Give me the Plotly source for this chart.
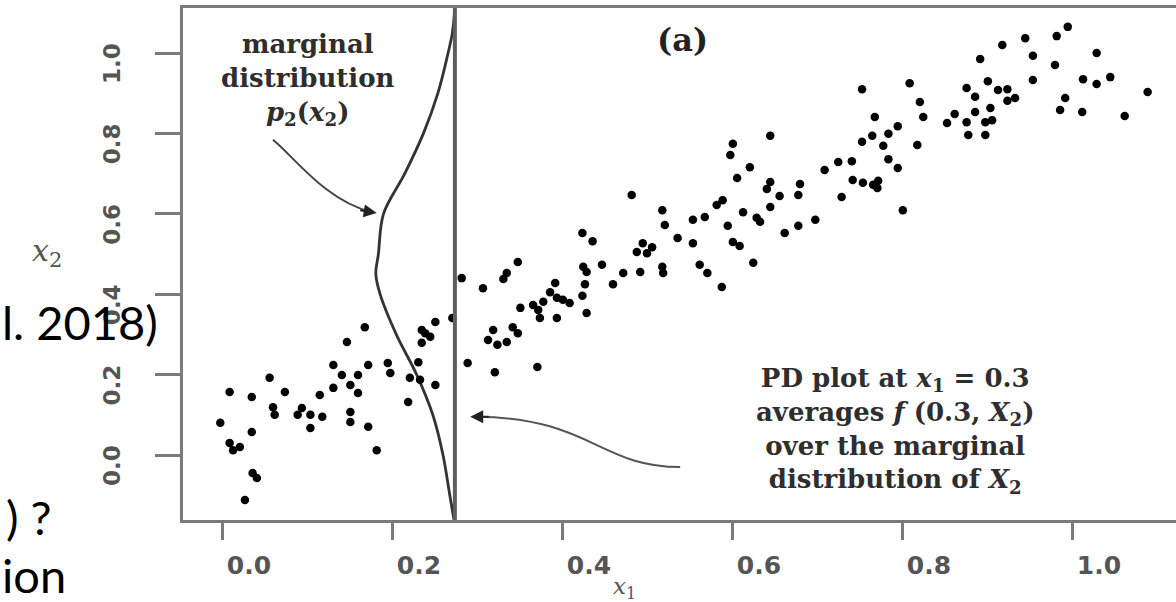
import plotly.graph_objects as go

# ---------------- data ----------------
x1_vals = [
    0.168, 0.147, 0.271, 0.251, 0.235, 0.239, 0.245, 0.235, 0.231, 0.195,
    0.198, 0.131, 0.141, 0.160, 0.172, 0.151, 0.131, 0.160, 0.056, 0.074,
    0.009, 0.035, 0.115, 0.060, 0.062, 0.094, 0.089, 0.104, 0.118, 0.151,
    0.151, 0.172, 0.104, 0.221, 0.233, 0.251, 0.219, -0.002, 0.035, 0.009,
    0.013, 0.021, 0.182, 0.036, 0.041, 0.027,
    0.482, 0.518, 0.521, 0.554, 0.568, 0.424, 0.436, 0.536, 0.554, 0.495,
    0.506, 0.488, 0.500, 0.348, 0.335, 0.331, 0.282, 0.307, 0.425, 0.429,
    0.447, 0.472, 0.492, 0.518, 0.519, 0.562, 0.571, 0.392, 0.427, 0.460,
    0.386, 0.424, 0.351, 0.366, 0.372, 0.374, 0.378, 0.394, 0.401, 0.409,
    0.394, 0.429, 0.342, 0.348, 0.319, 0.313, 0.324, 0.335, 0.289, 0.321,
    0.371, 0.588,
    0.768, 0.825, 0.853, 0.795, 0.645, 0.765, 0.784, 0.753, 0.778, 0.818,
    0.601, 0.598, 0.725, 0.741, 0.709, 0.784, 0.795, 0.621, 0.606, 0.645,
    0.641, 0.680, 0.742, 0.754, 0.766, 0.772, 0.771, 0.656, 0.678, 0.729,
    0.645, 0.589, 0.582, 0.613, 0.629, 0.633, 0.595, 0.698, 0.678, 0.662,
    0.801, 0.601, 0.609, 0.625,
    0.995, 0.982, 0.945, 0.918, 0.892, 0.954, 0.980, 1.029, 0.901, 0.954,
    0.876, 0.913, 0.924, 0.933, 0.924, 0.886, 1.013, 1.029, 1.045, 1.089,
    0.992, 0.986, 1.012, 1.062, 0.904, 0.886, 0.862, 0.876, 0.898, 0.906,
    0.878, 0.898, 0.753, 0.809, 0.821,
]
x2_vals = [
    0.318, 0.281, 0.341, 0.331, 0.311, 0.303, 0.294, 0.279, 0.231, 0.229,
    0.204, 0.224, 0.199, 0.199, 0.224, 0.174, 0.167, 0.154, 0.192, 0.157,
    0.157, 0.144, 0.149, 0.119, 0.100, 0.117, 0.100, 0.100, 0.095, 0.107,
    0.082, 0.070, 0.067, 0.192, 0.187, 0.174, 0.132, 0.080, 0.057, 0.030,
    0.012, 0.020, 0.012, -0.045, -0.057, -0.112,
    0.647, 0.609, 0.572, 0.585, 0.592, 0.552, 0.532, 0.540, 0.527, 0.527,
    0.517, 0.505, 0.502, 0.480, 0.453, 0.438, 0.440, 0.415, 0.468, 0.455,
    0.473, 0.453, 0.455, 0.468, 0.453, 0.473, 0.453, 0.428, 0.425, 0.425,
    0.405, 0.396, 0.366, 0.373, 0.361, 0.341, 0.381, 0.391, 0.386, 0.378,
    0.341, 0.353, 0.318, 0.303, 0.311, 0.286, 0.274, 0.281, 0.229, 0.206,
    0.219, 0.418,
    0.841, 0.841, 0.826, 0.818, 0.794, 0.794, 0.799, 0.779, 0.769, 0.771,
    0.774, 0.746, 0.729, 0.731, 0.709, 0.736, 0.714, 0.716, 0.689, 0.679,
    0.662, 0.674, 0.684, 0.677, 0.672, 0.682, 0.664, 0.644, 0.647, 0.642,
    0.617, 0.634, 0.622, 0.604, 0.590, 0.580, 0.570, 0.585, 0.570, 0.552,
    0.609, 0.530, 0.520, 0.478,
    1.065, 1.042, 1.037, 1.020, 0.985, 0.993, 0.970, 1.000, 0.930, 0.933,
    0.913, 0.908, 0.910, 0.888, 0.881, 0.891, 0.935, 0.923, 0.940, 0.903,
    0.888, 0.858, 0.853, 0.843, 0.863, 0.853, 0.848, 0.828, 0.828, 0.833,
    0.796, 0.796, 0.910, 0.925, 0.878,
]

# marginal density curve p2(x2), drawn sideways against the x1 = const line
curve_x2 = [1.112, 1.05, 1.0, 0.9, 0.8, 0.7, 0.6, 0.5, 0.45, 0.4, 0.3, 0.2, 0.1, 0.0, -0.1, -0.162]
curve_x1 = [0.274, 0.271, 0.266, 0.254, 0.237, 0.215, 0.190, 0.184, 0.181, 0.186, 0.205, 0.229, 0.248, 0.260, 0.268, 0.273]

pd_line_x1 = 0.274

x_ticks = [0.0, 0.2, 0.4, 0.6, 0.8, 1.0]
x_tick_labels = ["0.0", "0.2", "0.4", "0.6", "0.8", "1.0"]
y_ticks = [0.0, 0.2, 0.4, 0.6, 0.8, 1.0]
y_tick_labels = ["0.0", "0.2", "0.4", "0.6", "0.8", "1.0"]

# ---------------- layout geometry ----------------
W, H = 1176, 602
ML, MR, MT, MB = 183, 0, 8, 82
PW, PH = W - ML - MR, H - MT - MB


def paper(px, py):
    return (px - ML) / PW, (H - MB - py) / PH


fig = go.Figure()

fig.add_trace(go.Scatter(
    x=curve_x1, y=curve_x2, mode="lines", line=dict(color="#333333", width=2.8, shape="spline"),
    hoverinfo="skip", showlegend=False))

fig.add_trace(go.Scatter(
    x=x1_vals, y=x2_vals, mode="markers",
    marker=dict(color="black", size=8.5, symbol="circle"),
    showlegend=False))

# vertical PD line
fig.add_shape(type="line", xref="x", yref="paper", x0=pd_line_x1, x1=pd_line_x1, y0=0, y1=1,
              line=dict(color="#5e5e5e", width=4))

# curved annotation arrows (bezier paths in data coordinates)
fig.add_shape(type="path", xref="x", yref="y",
              path="M 0.060,0.784 C 0.086,0.739 0.121,0.634 0.176,0.604",
              line=dict(color="#444444", width=2))
fig.add_shape(type="path", xref="x", yref="y",
              path="M 0.539,-0.030 C 0.445,-0.030 0.433,0.092 0.301,0.095",
              line=dict(color="#555555", width=2))

serif = "DejaVu Serif"
annos = []
# arrow heads
annos.append(dict(x=0.182, y=0.602, xref="x", yref="y", text="", showarrow=True,
                  ax=-18, ay=-3, arrowhead=2, arrowsize=1.3, arrowwidth=2, arrowcolor="#222222"))
annos.append(dict(x=0.292, y=0.095, xref="x", yref="y", text="", showarrow=True,
                  ax=20, ay=0, arrowhead=2, arrowsize=1.3, arrowwidth=2, arrowcolor="#222222"))


def txt(text, px, py, size, color="#2e2e2e", family=serif, weight="bold", xanchor="center"):
    xp, yp = paper(px, py)
    annos.append(dict(x=xp, y=yp, xref="paper", yref="paper", text=text, showarrow=False,
                      xanchor=xanchor, yanchor="middle", align="center",
                      font=dict(family=family, size=size, color=color, weight=weight)))


txt("marginal<br>distribution<br><i>p</i><sub>2</sub>(<i>x</i><sub>2</sub>)", 308, 79, 26)

txt("PD plot at <i>x</i><sub>1</sub> = 0.3<br>averages <i>f</i> (0.3, <i>X</i><sub>2</sub>)"
    "<br>over the marginal<br>distribution of <i>X</i><sub>2</sub>", 895, 430, 26)

txt("(a)", 682, 40, 32, color="#222222")

txt("<i>x</i><sub>1</sub>", 624, 588, 23, color="#555555", weight="normal")
txt("<i>x</i><sub>2</sub>", 47, 252, 30, color="#555555", weight="normal")

# slide text cut at the left edge
txt("l. 2018)", 0, 322, 47, color="black", family="Lato", weight="normal", xanchor="left")
txt(") ?", 4, 517, 47, color="black", family="Lato", weight="normal", xanchor="left")
txt("ion", 0, 575, 47, color="black", family="Lato", weight="normal", xanchor="left")

fig.update_layout(
    width=W, height=H,
    margin=dict(l=ML, r=MR, t=MT, b=MB, pad=0),
    paper_bgcolor="white", plot_bgcolor="white",
    annotations=annos,
    showlegend=False,
    xaxis=dict(range=[(ML - 222) / 850, (W - 222) / 850],
               tickvals=x_ticks, ticktext=x_tick_labels,
               showgrid=False, zeroline=False,
               showline=True, linecolor="#7a7a7a", linewidth=3, mirror=True,
               ticks="outside", ticklen=17, tickwidth=3, tickcolor="#7a7a7a",
               ticklabelshift=27, ticklabelstandoff=4,
               tickfont=dict(family="DejaVu Sans", size=25, color="#555555", weight="bold")),
    yaxis=dict(range=[-65 / 402, 447 / 402],
               tickvals=y_ticks, ticktext=y_tick_labels,
               showgrid=False, zeroline=False,
               showline=True, linecolor="#7a7a7a", linewidth=3,
               ticks="outside", ticklen=25, tickwidth=3, tickcolor="#7a7a7a",
               tickangle=-90, ticklabelshift=14, ticklabelstandoff=26,
               tickfont=dict(family="DejaVu Sans", size=23, color="#555555", weight="bold")),
)

fig.write_html("out.html")
